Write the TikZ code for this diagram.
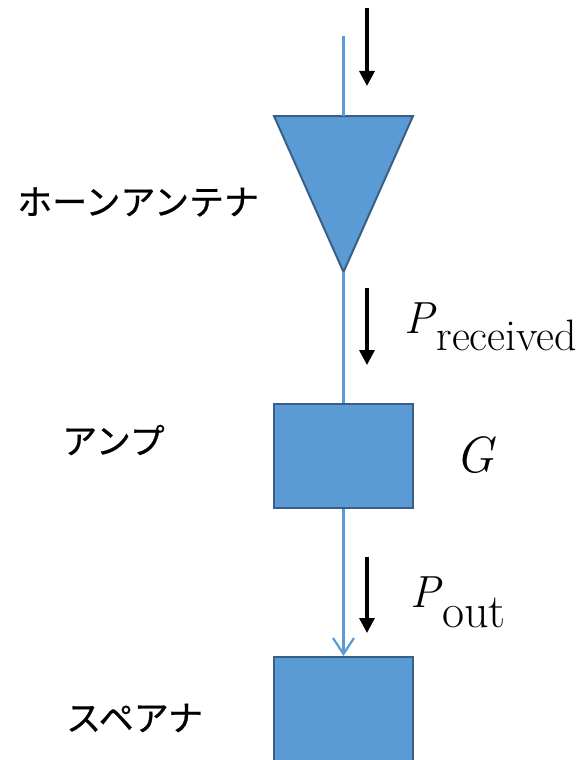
\documentclass[tikz,border=0pt]{standalone}
\usepackage{fontspec}
\newfontfamily\jp[FakeBold=0.6]{Noto Sans CJK JP}
\newcommand{\heavier}{\addfontfeature{FakeBold=0.7}}
\usetikzlibrary{arrows.meta}
\definecolor{boxfill}{HTML}{5B9BD5}
\definecolor{boxline}{HTML}{3A5F85}
\definecolor{wire}{HTML}{5B9BD5}
\begin{document}
\begin{tikzpicture}[x=1pt,y=-1pt,
  block/.style={draw=boxline, fill=boxfill, line width=2pt, minimum width=139pt, minimum height=104pt, inner sep=0pt},
  wireline/.style={draw=wire, line width=2.2pt},
  flow/.style={line width=3.3pt, -{Triangle[width=15pt,length=15pt]}},
  jplabel/.style={font=\jp\fontsize{35}{35}\selectfont, anchor=west, inner sep=0pt},
  mathlabel/.style={anchor=base west, inner sep=0pt}
]
\useasboundingbox (0,0) rectangle (581,760);
\clip (0,0) rectangle (581,760);

% horn antenna (triangle)
\coordinate (tl) at (274,116);
\coordinate (tr) at (413,116);
\coordinate (tip) at (343.5,272);
\coordinate (tmid) at (343.5,116);
\coordinate (in) at (343.5,36);
\filldraw[draw=boxline, fill=boxfill, line width=2pt] (tl) -- (tr) -- (tip) -- cycle;

% amplifier and spectrum analyser
\node[block] (amp) at (343.5,456) {};
\node[block] (spk) at (343.5,709) {};

% blue signal wires
\draw[wireline] (in) -- (tmid);
\draw[wireline] (tip) -- (amp.north);
\draw[wireline, -{Straight Barb[width=21pt,length=16pt]}] (amp.south) -- (spk.north);

% black power-flow arrows
\coordinate (a1s) at (367,8);   \coordinate (a1e) at (367,86);
\coordinate (a2s) at (367,288); \coordinate (a2e) at (367,365);
\coordinate (a3s) at (367,557); \coordinate (a3e) at (367,633);
\draw[flow] (a1s) -- (a1e);
\draw[flow] (a2s) -- (a2e);
\draw[flow] (a3s) -- (a3e);

% labels
\node[jplabel] (hornlbl) at (17,202) {ホーンアンテナ};
\node[jplabel] (amplbl) at (62,440) {アンプ};
\node[jplabel] (spklbl) at (66,718) {スペアナ};

\node[mathlabel] (prx) at (404,333) {\fontsize{45}{45}\selectfont\itshape\heavier P\/\raisebox{-17pt}{\upshape\fontsize{44}{44}\selectfont\heavier received}};
\node[mathlabel] (gain) at (455,472) {\fontsize{51}{51}\selectfont\itshape\heavier G};
\node[mathlabel] (pout) at (410,607) {\fontsize{45}{45}\selectfont\itshape\heavier P\/\raisebox{-20pt}{\upshape\fontsize{48}{48}\selectfont\heavier out}};
\end{tikzpicture}
\end{document}
